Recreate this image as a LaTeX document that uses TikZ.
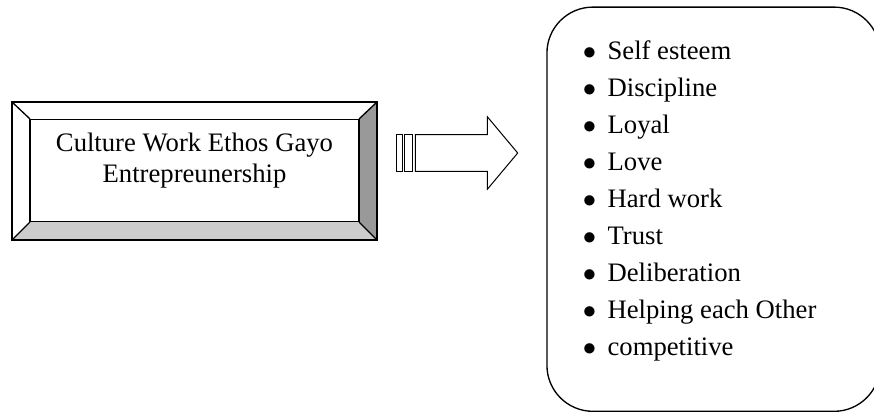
\documentclass[tikz,border=0pt]{standalone}
\usepackage{fontspec}
\setmainfont{Liberation Serif}
\definecolor{bevelright}{gray}{0.6}
\definecolor{bevelbottom}{gray}{0.8}

\begin{document}
\begin{tikzpicture}[x=0.45pt, y=-0.45pt, font=\fontsize{12pt}{13.95pt}\selectfont,
  listitem/.style={anchor=base west, inner sep=0pt,
    execute at begin node={\makebox[11.1pt][l]{$\bullet$}}}]
\useasboundingbox (0,0) rectangle (874,412);
\begin{scope}[line width=0.6pt]

  % bevelled frame round the culture box
  \fill[bevelright] (377,102) -- (359,119) -- (359,222) -- (377,240) -- cycle;
  \fill[bevelbottom] (12,240) -- (30,222) -- (359,222) -- (377,240) -- cycle;
  \draw (12,102) rectangle (377,240);
  \draw (12,102) -- (30,119) (377,102) -- (359,119)
        (12,240) -- (30,222) (377,240) -- (359,222);

  \node[rectangle, draw, minimum width=148pt, minimum height=46pt] (ethos)
        at (194.5,170.5) {};
  \node[align=center, inner sep=0pt, anchor=base] (title) at (194.5,182.7)
        {Culture Work Ethos Gayo\\Entrepreunership};

  % block arrow
  \begin{scope}[line width=0.45pt]
  \draw (396,134.7) rectangle (402,171.3);
  \draw (404,134.7) rectangle (412,171.3);
  \draw (415.3,134.7) -- (487.3,134.7) -- (487.3,116.7) -- (517.7,153)
        -- (487.3,189.3) -- (487.3,171.3) -- (415.3,171.3) -- cycle;
  \end{scope}

  % list of values
  \node[rectangle, draw, rounded corners=20.7pt, minimum width=149.9pt,
        minimum height=181.9pt] (values) at (713.5,209.2) {};

  \node[listitem] (item1) at (582.3,59) {Self esteem};
  \node[listitem] (item2) at (582.3,96.1) {Discipline};
  \node[listitem] (item3) at (582.3,133.2) {Loyal};
  \node[listitem] (item4) at (582.3,170.3) {Love};
  \node[listitem] (item5) at (582.3,207.4) {Hard work};
  \node[listitem] (item6) at (582.3,244.5) {Trust};
  \node[listitem] (item7) at (582.3,281.6) {Deliberation};
  \node[listitem] (item8) at (582.3,318.7) {Helping each Other};
  \node[listitem] (item9) at (582.3,355.8) {competitive};

\end{scope}
\end{tikzpicture}
\end{document}
